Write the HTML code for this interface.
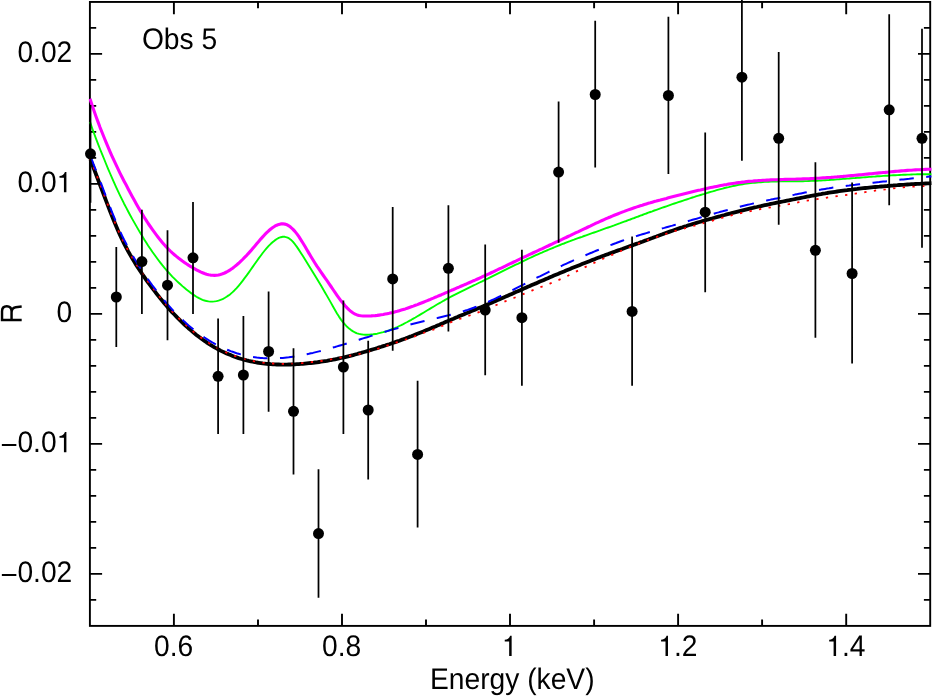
<!DOCTYPE html>
<html><head><meta charset="utf-8"><title>Obs 5</title>
<style>
html,body{margin:0;padding:0;background:#fff;}
body{width:934px;height:696px;overflow:hidden;position:relative;font-family:"Liberation Sans",sans-serif;}
svg text{text-rendering:geometricPrecision;}
</style></head><body>
<svg width="934" height="696" viewBox="0 0 934 696" style="position:absolute;left:0;top:0;display:block">
<rect x="0" y="0" width="934" height="696" fill="#fff"/>
<g stroke="#000" stroke-width="1.9" fill="none" stroke-linecap="butt">
<rect x="89.9" y="1.95" width="840.3000000000001" height="623.9499999999999"/>
<path d="M173.9,625.9 V613.6999999999999 M173.9,1.95 V14.149999999999999 M258.0,625.9 V619.6 M258.0,1.95 V8.25 M342.0,625.9 V613.6999999999999 M342.0,1.95 V14.149999999999999 M426.0,625.9 V619.6 M426.0,1.95 V8.25 M510.0,625.9 V613.6999999999999 M510.0,1.95 V14.149999999999999 M594.1,625.9 V619.6 M594.1,1.95 V8.25 M678.1,625.9 V613.6999999999999 M678.1,1.95 V14.149999999999999 M762.1,625.9 V619.6 M762.1,1.95 V8.25 M846.2,625.9 V613.6999999999999 M846.2,1.95 V14.149999999999999 M89.9,599.9 H96.2 M930.2,599.9 H923.9000000000001 M89.9,573.9 H102.10000000000001 M930.2,573.9 H918.0 M89.9,547.9 H96.2 M930.2,547.9 H923.9000000000001 M89.9,521.9 H96.2 M930.2,521.9 H923.9000000000001 M89.9,495.9 H96.2 M930.2,495.9 H923.9000000000001 M89.9,469.9 H96.2 M930.2,469.9 H923.9000000000001 M89.9,443.9 H102.10000000000001 M930.2,443.9 H918.0 M89.9,417.9 H96.2 M930.2,417.9 H923.9000000000001 M89.9,391.9 H96.2 M930.2,391.9 H923.9000000000001 M89.9,365.9 H96.2 M930.2,365.9 H923.9000000000001 M89.9,339.9 H96.2 M930.2,339.9 H923.9000000000001 M89.9,313.9 H102.10000000000001 M930.2,313.9 H918.0 M89.9,287.9 H96.2 M930.2,287.9 H923.9000000000001 M89.9,261.9 H96.2 M930.2,261.9 H923.9000000000001 M89.9,235.9 H96.2 M930.2,235.9 H923.9000000000001 M89.9,209.9 H96.2 M930.2,209.9 H923.9000000000001 M89.9,183.9 H102.10000000000001 M930.2,183.9 H918.0 M89.9,157.9 H96.2 M930.2,157.9 H923.9000000000001 M89.9,131.9 H96.2 M930.2,131.9 H923.9000000000001 M89.9,105.9 H96.2 M930.2,105.9 H923.9000000000001 M89.9,79.9 H96.2 M930.2,79.9 H923.9000000000001 M89.9,53.9 H102.10000000000001 M930.2,53.9 H918.0 M89.9,27.9 H96.2 M930.2,27.9 H923.9000000000001"/>
</g>
<clipPath id="c"><rect x="88.7" y="0" width="843.2" height="625.9"/></clipPath>
<g clip-path="url(#c)" fill="none" stroke-linejoin="round">
<path d="M90.0,158.8 L92.0,163.8 L94.0,169.0 L96.0,174.2 L98.0,179.5 L100.0,184.8 L102.1,190.2 L104.1,195.5 L106.1,200.8 L108.1,206.1 L110.1,211.2 L112.1,216.3 L114.1,221.3 L116.1,226.1 L118.1,230.7 L120.1,235.2 L122.1,239.5 L124.1,243.6 L126.2,247.5 L128.2,251.3 L130.2,254.9 L132.2,258.3 L134.2,261.6 L136.2,264.9 L138.2,268.0 L140.2,271.0 L142.2,274.0 L144.2,276.9 L146.2,279.8 L148.2,282.6 L150.3,285.4 L152.3,288.1 L154.3,290.7 L156.3,293.3 L158.3,295.9 L160.3,298.4 L162.3,300.8 L164.3,303.3 L166.3,305.6 L168.3,307.9 L170.3,310.2 L172.3,312.4 L174.4,314.5 L176.4,316.6 L178.4,318.7 L180.4,320.7 L182.4,322.6 L184.4,324.5 L186.4,326.4 L188.4,328.2 L190.4,329.9 L192.4,331.6 L194.4,333.3 L196.4,334.9 L198.5,336.5 L200.5,338.0 L202.5,339.5 L204.5,340.9 L206.5,342.3 L208.5,343.6 L210.5,344.9 L212.5,346.1 L214.5,347.3 L216.5,348.4 L218.5,349.5 L220.5,350.6 L222.6,351.6 L224.6,352.5 L226.6,353.4 L228.6,354.3 L230.6,355.1 L232.6,355.9 L234.6,356.7 L236.6,357.4 L238.6,358.1 L240.6,358.7 L242.6,359.3 L244.6,359.8 L246.7,360.4 L248.7,360.9 L250.7,361.3 L252.7,361.7 L254.7,362.1 L256.7,362.5 L258.7,362.8 L260.7,363.1 L262.7,363.4 L264.7,363.6 L266.7,363.8 L268.7,364.0 L270.8,364.2 L272.8,364.3 L274.8,364.4 L276.8,364.5 L278.8,364.5 L280.8,364.6 L282.8,364.6 L284.8,364.6 L286.8,364.6 L288.8,364.5 L290.8,364.5 L292.8,364.4 L294.9,364.3 L296.9,364.2 L298.9,364.1 L300.9,363.9 L302.9,363.8 L304.9,363.6 L306.9,363.4 L308.9,363.2 L310.9,363.0 L312.9,362.8 L314.9,362.5 L316.9,362.3 L319.0,362.0 L321.0,361.7 L323.0,361.4 L325.0,361.1 L327.0,360.8 L329.0,360.4 L331.0,360.0 L333.0,359.7 L335.0,359.3 L337.0,358.9 L339.0,358.4 L341.0,358.0 L343.1,357.6 L345.1,357.1 L347.1,356.6 L349.1,356.1 L351.1,355.6 L353.1,355.1 L355.1,354.5 L357.1,354.0 L359.1,353.4 L361.1,352.9 L363.1,352.3 L365.1,351.7 L367.2,351.1 L369.2,350.5 L371.2,349.9 L373.2,349.3 L375.2,348.7 L377.2,348.1 L379.2,347.4 L381.2,346.8 L383.2,346.1 L385.2,345.5 L387.2,344.8 L389.2,344.2 L391.3,343.5 L393.3,342.8 L395.3,342.1 L397.3,341.4 L399.3,340.7 L401.3,339.9 L403.3,339.2 L405.3,338.5 L407.3,337.7 L409.3,336.9 L411.3,336.2 L413.3,335.4 L415.4,334.6 L417.4,333.8 L419.4,333.0 L421.4,332.2 L423.4,331.4 L425.4,330.6 L427.4,329.7 L429.4,328.9 L431.4,328.1 L433.4,327.2 L435.4,326.4 L437.4,325.5 L439.5,324.7 L441.5,323.8 L443.5,323.0 L445.5,322.1 L447.5,321.2 L449.5,320.4 L451.5,319.5 L453.5,318.7 L455.5,317.8 L457.5,317.0 L459.5,316.1 L461.5,315.3 L463.6,314.5 L465.6,313.6 L467.6,312.8 L469.6,311.9 L471.6,311.1 L473.6,310.3 L475.6,309.4 L477.6,308.6 L479.6,307.7 L481.6,306.9 L483.6,306.1 L485.6,305.2 L487.7,304.4 L489.7,303.5 L491.7,302.7 L493.7,301.8 L495.7,300.9 L497.7,300.1 L499.7,299.2 L501.7,298.3 L503.7,297.4 L505.7,296.6 L507.7,295.7 L509.7,294.8 L511.8,293.9 L513.8,293.0 L515.8,292.1 L517.8,291.3 L519.8,290.4 L521.8,289.5 L523.8,288.6 L525.8,287.7 L527.8,286.8 L529.8,286.0 L531.8,285.1 L533.8,284.2 L535.9,283.4 L537.9,282.5 L539.9,281.6 L541.9,280.8 L543.9,279.9 L545.9,279.0 L547.9,278.2 L549.9,277.3 L551.9,276.5 L553.9,275.6 L555.9,274.8 L557.9,274.0 L560.0,273.1 L562.0,272.3 L564.0,271.5 L566.0,270.6 L568.0,269.8 L570.0,269.0 L572.0,268.1 L574.0,267.3 L576.0,266.5 L578.0,265.7 L580.0,264.9 L582.0,264.1 L584.1,263.3 L586.1,262.5 L588.1,261.7 L590.1,260.9 L592.1,260.1 L594.1,259.4 L596.1,258.6 L598.1,257.8 L600.1,257.1 L602.1,256.3 L604.1,255.6 L606.1,254.8 L608.2,254.1 L610.2,253.3 L612.2,252.6 L614.2,251.9 L616.2,251.1 L618.2,250.4 L620.2,249.7 L622.2,249.0 L624.2,248.2 L626.2,247.5 L628.2,246.8 L630.2,246.1 L632.3,245.4 L634.3,244.6 L636.3,243.9 L638.3,243.2 L640.3,242.4 L642.3,241.7 L644.3,240.9 L646.3,240.2 L648.3,239.5 L650.3,238.7 L652.3,238.0 L654.3,237.2 L656.4,236.5 L658.4,235.7 L660.4,235.0 L662.4,234.3 L664.4,233.5 L666.4,232.8 L668.4,232.1 L670.4,231.4 L672.4,230.7 L674.4,230.0 L676.4,229.3 L678.4,228.6 L680.5,227.9 L682.5,227.3 L684.5,226.6 L686.5,226.0 L688.5,225.3 L690.5,224.7 L692.5,224.1 L694.5,223.5 L696.5,222.9 L698.5,222.3 L700.5,221.7 L702.5,221.1 L704.6,220.5 L706.6,219.9 L708.6,219.4 L710.6,218.8 L712.6,218.3 L714.6,217.7 L716.6,217.1 L718.6,216.6 L720.6,216.1 L722.6,215.5 L724.6,215.0 L726.6,214.4 L728.7,213.9 L730.7,213.4 L732.7,212.8 L734.7,212.3 L736.7,211.8 L738.7,211.3 L740.7,210.8 L742.7,210.3 L744.7,209.8 L746.7,209.3 L748.7,208.8 L750.7,208.3 L752.8,207.9 L754.8,207.4 L756.8,207.0 L758.8,206.5 L760.8,206.1 L762.8,205.6 L764.8,205.2 L766.8,204.8 L768.8,204.4 L770.8,203.9 L772.8,203.5 L774.8,203.1 L776.9,202.7 L778.9,202.3 L780.9,201.9 L782.9,201.5 L784.9,201.1 L786.9,200.7 L788.9,200.3 L790.9,199.9 L792.9,199.5 L794.9,199.1 L796.9,198.7 L798.9,198.3 L801.0,197.9 L803.0,197.5 L805.0,197.1 L807.0,196.7 L809.0,196.3 L811.0,195.9 L813.0,195.5 L815.0,195.2 L817.0,194.8 L819.0,194.4 L821.0,194.1 L823.0,193.7 L825.1,193.4 L827.1,193.0 L829.1,192.7 L831.1,192.4 L833.1,192.1 L835.1,191.8 L837.1,191.5 L839.1,191.2 L841.1,190.9 L843.1,190.6 L845.1,190.3 L847.1,190.1 L849.2,189.8 L851.2,189.6 L853.2,189.3 L855.2,189.1 L857.2,188.9 L859.2,188.6 L861.2,188.4 L863.2,188.2 L865.2,188.0 L867.2,187.8 L869.2,187.6 L871.2,187.4 L873.3,187.2 L875.3,187.0 L877.3,186.8 L879.3,186.7 L881.3,186.5 L883.3,186.3 L885.3,186.1 L887.3,186.0 L889.3,185.8 L891.3,185.6 L893.3,185.5 L895.3,185.3 L897.4,185.2 L899.4,185.0 L901.4,184.9 L903.4,184.8 L905.4,184.6 L907.4,184.5 L909.4,184.4 L911.4,184.2 L913.4,184.1 L915.4,184.0 L917.4,183.9 L919.4,183.8 L921.5,183.7 L923.5,183.6 L925.5,183.5 L927.5,183.4 L929.5,183.3 L931.5,183.2" stroke="#000" stroke-width="3.8"/>
<path d="M90.0,158.2 L92.0,163.2 L94.0,168.4 L96.0,173.6 L98.0,178.9 L100.0,184.2 L102.1,189.5 L104.1,194.9 L106.1,200.2 L108.1,205.4 L110.1,210.6 L112.1,215.6 L114.1,220.6 L116.1,225.4 L118.1,230.1 L120.1,234.6 L122.1,238.8 L124.1,242.9 L126.2,246.8 L128.2,250.6 L130.2,254.2 L132.2,257.6 L134.2,260.9 L136.2,264.2 L138.2,267.3 L140.2,270.3 L142.2,273.3 L144.2,276.2 L146.2,279.1 L148.2,281.9 L150.3,284.6 L152.3,287.3 L154.3,290.0 L156.3,292.6 L158.3,295.2 L160.3,297.7 L162.3,300.1 L164.3,302.5 L166.3,304.9 L168.3,307.2 L170.3,309.4 L172.3,311.6 L174.4,313.8 L176.4,315.8 L178.4,317.9 L180.4,319.9 L182.4,321.8 L184.4,323.8 L186.4,325.6 L188.4,327.4 L190.4,329.2 L192.4,330.9 L194.4,332.5 L196.4,334.1 L198.5,335.7 L200.5,337.2 L202.5,338.7 L204.5,340.1 L206.5,341.5 L208.5,342.8 L210.5,344.1 L212.5,345.3 L214.5,346.5 L216.5,347.6 L218.5,348.7 L220.5,349.8 L222.6,350.8 L224.6,351.7 L226.6,352.7 L228.6,353.5 L230.6,354.4 L232.6,355.1 L234.6,355.9 L236.6,356.6 L238.6,357.3 L240.6,357.9 L242.6,358.5 L244.6,359.1 L246.7,359.6 L248.7,360.1 L250.7,360.5 L252.7,360.9 L254.7,361.3 L256.7,361.7 L258.7,362.0 L260.7,362.3 L262.7,362.6 L264.7,362.8 L266.7,363.0 L268.7,363.2 L270.8,363.4 L272.8,363.5 L274.8,363.6 L276.8,363.7 L278.8,363.7 L280.8,363.8 L282.8,363.8 L284.8,363.8 L286.8,363.8 L288.8,363.7 L290.8,363.7 L292.8,363.6 L294.9,363.5 L296.9,363.4 L298.9,363.3 L300.9,363.1 L302.9,363.0 L304.9,362.8 L306.9,362.6 L308.9,362.5 L310.9,362.2 L312.9,362.0 L314.9,361.8 L316.9,361.5 L319.0,361.3 L321.0,361.0 L323.0,360.7 L325.0,360.4 L327.0,360.1 L329.0,359.8 L331.0,359.4 L333.0,359.1 L335.0,358.7 L337.0,358.3 L339.0,357.9 L341.0,357.5 L343.1,357.1 L345.1,356.7 L347.1,356.3 L349.1,355.9 L351.1,355.5 L353.1,355.1 L355.1,354.7 L357.1,354.4 L359.1,354.0 L361.1,353.5 L363.1,353.0 L365.1,352.5 L367.2,351.9 L369.2,351.3 L371.2,350.7 L373.2,350.1 L375.2,349.5 L377.2,348.9 L379.2,348.3 L381.2,347.7 L383.2,347.0 L385.2,346.3 L387.2,345.6 L389.2,345.0 L391.3,344.3 L393.3,343.6 L395.3,342.9 L397.3,342.2 L399.3,341.5 L401.3,340.8 L403.3,340.2 L405.3,339.6 L407.3,338.9 L409.3,338.2 L411.3,337.5 L413.3,336.8 L415.4,336.1 L417.4,335.3 L419.4,334.5 L421.4,333.7 L423.4,333.0 L425.4,332.2 L427.4,331.5 L429.4,330.9 L431.4,330.3 L433.4,329.6 L435.4,328.8 L437.4,327.9 L439.5,327.1 L441.5,326.2 L443.5,325.4 L445.5,324.5 L447.5,323.7 L449.5,322.9 L451.5,322.0 L453.5,321.2 L455.5,320.5 L457.5,319.8 L459.5,319.0 L461.5,318.3 L463.6,317.6 L465.6,316.9 L467.6,316.2 L469.6,315.5 L471.6,314.8 L473.6,314.1 L475.6,313.3 L477.6,312.6 L479.6,311.8 L481.6,311.0 L483.6,310.2 L485.6,309.4 L487.7,308.6 L489.7,307.7 L491.7,306.9 L493.7,306.1 L495.7,305.3 L497.7,304.4 L499.7,303.6 L501.7,302.8 L503.7,301.9 L505.7,301.1 L507.7,300.3 L509.7,299.5 L511.8,298.8 L513.8,298.0 L515.8,297.2 L517.8,296.3 L519.8,295.5 L521.8,294.7 L523.8,293.9 L525.8,293.1 L527.8,292.3 L529.8,291.4 L531.8,290.6 L533.8,289.8 L535.9,289.0 L537.9,288.2 L539.9,287.4 L541.9,286.7 L543.9,285.9 L545.9,285.2 L547.9,284.4 L549.9,283.6 L551.9,282.8 L553.9,281.9 L555.9,281.1 L557.9,280.3 L560.0,279.4 L562.0,278.5 L564.0,277.6 L566.0,276.7 L568.0,275.7 L570.0,274.7 L572.0,273.7 L574.0,272.6 L576.0,271.6 L578.0,270.6 L580.0,269.5 L582.0,268.5 L584.1,267.6 L586.1,266.6 L588.1,265.7 L590.1,264.7 L592.1,263.8 L594.1,262.9 L596.1,261.9 L598.1,261.0 L600.1,260.1 L602.1,259.2 L604.1,258.3 L606.1,257.4 L608.2,256.6 L610.2,255.7 L612.2,254.8 L614.2,254.0 L616.2,253.1 L618.2,252.2 L620.2,251.3 L622.2,250.4 L624.2,249.5 L626.2,248.7 L628.2,247.8 L630.2,247.0 L632.3,246.1 L634.3,245.3 L636.3,244.5 L638.3,243.7 L640.3,242.9 L642.3,242.1 L644.3,241.4 L646.3,240.6 L648.3,239.9 L650.3,239.2 L652.3,238.5 L654.3,237.8 L656.4,237.1 L658.4,236.4 L660.4,235.7 L662.4,235.0 L664.4,234.3 L666.4,233.7 L668.4,233.0 L670.4,232.4 L672.4,231.8 L674.4,231.2 L676.4,230.6 L678.4,230.0 L680.5,229.5 L682.5,228.9 L684.5,228.4 L686.5,227.8 L688.5,227.3 L690.5,226.7 L692.5,226.2 L694.5,225.6 L696.5,225.0 L698.5,224.5 L700.5,223.9 L702.5,223.4 L704.6,222.8 L706.6,222.3 L708.6,221.7 L710.6,221.2 L712.6,220.6 L714.6,220.1 L716.6,219.5 L718.6,219.0 L720.6,218.3 L722.6,217.7 L724.6,217.2 L726.6,216.6 L728.7,216.1 L730.7,215.6 L732.7,215.0 L734.7,214.5 L736.7,214.0 L738.7,213.6 L740.7,213.1 L742.7,212.7 L744.7,212.3 L746.7,211.9 L748.7,211.5 L750.7,211.1 L752.8,210.7 L754.8,210.3 L756.8,209.9 L758.8,209.4 L760.8,209.0 L762.8,208.7 L764.8,208.3 L766.8,208.0 L768.8,207.6 L770.8,207.3 L772.8,206.9 L774.8,206.5 L776.9,206.1 L778.9,205.8 L780.9,205.4 L782.9,205.1 L784.9,204.8 L786.9,204.5 L788.9,204.2 L790.9,203.8 L792.9,203.4 L794.9,203.0 L796.9,202.6 L798.9,202.2 L801.0,201.8 L803.0,201.4 L805.0,201.0 L807.0,200.7 L809.0,200.3 L811.0,200.0 L813.0,199.7 L815.0,199.5 L817.0,199.2 L819.0,198.9 L821.0,198.6 L823.0,198.3 L825.1,198.0 L827.1,197.6 L829.1,197.3 L831.1,197.0 L833.1,196.7 L835.1,196.4 L837.1,196.1 L839.1,195.9 L841.1,195.6 L843.1,195.4 L845.1,195.1 L847.1,194.8 L849.2,194.5 L851.2,194.3 L853.2,194.0 L855.2,193.7 L857.2,193.4 L859.2,193.1 L861.2,192.8 L863.2,192.5 L865.2,192.1 L867.2,191.8 L869.2,191.5 L871.2,191.2 L873.3,190.9 L875.3,190.6 L877.3,190.3 L879.3,190.1 L881.3,189.8 L883.3,189.6 L885.3,189.4 L887.3,189.1 L889.3,188.9 L891.3,188.7 L893.3,188.4 L895.3,188.2 L897.4,187.9 L899.4,187.6 L901.4,187.4 L903.4,187.3 L905.4,187.1 L907.4,187.0 L909.4,186.9 L911.4,186.7 L913.4,186.6 L915.4,186.5 L917.4,186.4 L919.4,186.3 L921.5,186.2 L923.5,186.1 L925.5,186.0 L927.5,185.9 L929.5,185.8 L931.5,185.7" stroke="#f00" stroke-width="1.8" stroke-dasharray="2.3 7.4"/>
<path d="M90.0,121.9 L92.0,127.7 L94.0,133.3 L96.0,138.6 L98.0,143.9 L100.0,149.0 L102.1,154.1 L104.1,159.0 L106.1,164.0 L108.1,168.8 L110.1,173.5 L112.1,178.2 L114.1,182.7 L116.1,187.1 L118.1,191.4 L120.1,195.6 L122.1,199.7 L124.1,203.7 L126.2,207.6 L128.2,211.5 L130.2,215.2 L132.2,218.9 L134.2,222.4 L136.2,225.9 L138.2,229.4 L140.2,232.8 L142.2,236.1 L144.2,239.4 L146.2,242.6 L148.2,245.7 L150.3,248.7 L152.3,251.7 L154.3,254.5 L156.3,257.3 L158.3,260.0 L160.3,262.6 L162.3,265.2 L164.3,267.6 L166.3,270.0 L168.3,272.2 L170.3,274.4 L172.3,276.6 L174.4,278.6 L176.4,280.6 L178.4,282.5 L180.4,284.3 L182.4,286.1 L184.4,287.8 L186.4,289.5 L188.4,291.0 L190.4,292.6 L192.4,294.0 L194.4,295.4 L196.4,296.7 L198.5,297.9 L200.5,298.9 L202.5,299.8 L204.5,300.5 L206.5,301.0 L208.5,301.4 L210.5,301.6 L212.5,301.6 L214.5,301.4 L216.5,301.1 L218.5,300.6 L220.5,299.9 L222.6,299.1 L224.6,298.0 L226.6,296.8 L228.6,295.4 L230.6,293.9 L232.6,292.1 L234.6,290.2 L236.6,288.1 L238.6,285.8 L240.6,283.4 L242.6,280.8 L244.6,278.1 L246.7,275.4 L248.7,272.6 L250.7,269.8 L252.7,266.9 L254.7,264.0 L256.7,261.2 L258.7,258.4 L260.7,255.7 L262.7,253.0 L264.7,250.5 L266.7,248.1 L268.7,245.9 L270.8,243.8 L272.8,242.0 L274.8,240.4 L276.8,239.0 L278.8,237.9 L280.8,237.2 L282.8,236.8 L284.8,236.8 L286.8,237.3 L288.8,238.2 L290.8,239.7 L292.8,241.7 L294.9,244.2 L296.9,246.9 L298.9,249.9 L300.9,253.0 L302.9,256.1 L304.9,259.3 L306.9,262.5 L308.9,265.7 L310.9,268.9 L312.9,272.2 L314.9,275.5 L316.9,278.8 L319.0,282.2 L321.0,285.6 L323.0,289.0 L325.0,292.4 L327.0,295.9 L329.0,299.4 L331.0,302.9 L333.0,306.5 L335.0,310.0 L337.0,313.4 L339.0,316.6 L341.0,319.6 L343.1,322.3 L345.1,324.7 L347.1,326.8 L349.1,328.6 L351.1,330.1 L353.1,331.4 L355.1,332.5 L357.1,333.3 L359.1,333.9 L361.1,334.3 L363.1,334.6 L365.1,334.8 L367.2,334.8 L369.2,334.7 L371.2,334.5 L373.2,334.3 L375.2,334.0 L377.2,333.7 L379.2,333.2 L381.2,332.7 L383.2,332.2 L385.2,331.6 L387.2,331.0 L389.2,330.3 L391.3,329.5 L393.3,328.7 L395.3,327.9 L397.3,327.0 L399.3,326.0 L401.3,325.1 L403.3,324.1 L405.3,323.0 L407.3,322.0 L409.3,320.9 L411.3,319.8 L413.3,318.6 L415.4,317.5 L417.4,316.3 L419.4,315.1 L421.4,313.9 L423.4,312.7 L425.4,311.5 L427.4,310.3 L429.4,309.1 L431.4,307.9 L433.4,306.7 L435.4,305.5 L437.4,304.3 L439.5,303.1 L441.5,302.0 L443.5,300.8 L445.5,299.7 L447.5,298.6 L449.5,297.5 L451.5,296.4 L453.5,295.3 L455.5,294.3 L457.5,293.3 L459.5,292.3 L461.5,291.3 L463.6,290.3 L465.6,289.3 L467.6,288.3 L469.6,287.3 L471.6,286.4 L473.6,285.4 L475.6,284.5 L477.6,283.5 L479.6,282.5 L481.6,281.6 L483.6,280.6 L485.6,279.6 L487.7,278.7 L489.7,277.7 L491.7,276.7 L493.7,275.7 L495.7,274.7 L497.7,273.7 L499.7,272.7 L501.7,271.7 L503.7,270.7 L505.7,269.7 L507.7,268.7 L509.7,267.7 L511.8,266.7 L513.8,265.7 L515.8,264.7 L517.8,263.8 L519.8,262.8 L521.8,261.8 L523.8,260.8 L525.8,259.9 L527.8,258.9 L529.8,258.0 L531.8,257.1 L533.8,256.2 L535.9,255.2 L537.9,254.3 L539.9,253.4 L541.9,252.6 L543.9,251.7 L545.9,250.8 L547.9,250.0 L549.9,249.1 L551.9,248.3 L553.9,247.5 L555.9,246.6 L557.9,245.8 L560.0,245.0 L562.0,244.2 L564.0,243.5 L566.0,242.7 L568.0,241.9 L570.0,241.2 L572.0,240.4 L574.0,239.7 L576.0,238.9 L578.0,238.2 L580.0,237.5 L582.0,236.8 L584.1,236.0 L586.1,235.3 L588.1,234.6 L590.1,233.9 L592.1,233.2 L594.1,232.5 L596.1,231.8 L598.1,231.1 L600.1,230.4 L602.1,229.6 L604.1,228.9 L606.1,228.2 L608.2,227.5 L610.2,226.8 L612.2,226.1 L614.2,225.4 L616.2,224.6 L618.2,223.9 L620.2,223.2 L622.2,222.4 L624.2,221.7 L626.2,221.0 L628.2,220.2 L630.2,219.5 L632.3,218.7 L634.3,218.0 L636.3,217.2 L638.3,216.5 L640.3,215.7 L642.3,215.0 L644.3,214.2 L646.3,213.5 L648.3,212.7 L650.3,212.0 L652.3,211.3 L654.3,210.5 L656.4,209.8 L658.4,209.1 L660.4,208.4 L662.4,207.7 L664.4,207.0 L666.4,206.3 L668.4,205.6 L670.4,204.9 L672.4,204.2 L674.4,203.5 L676.4,202.8 L678.4,202.1 L680.5,201.5 L682.5,200.8 L684.5,200.1 L686.5,199.5 L688.5,198.8 L690.5,198.2 L692.5,197.5 L694.5,196.9 L696.5,196.2 L698.5,195.6 L700.5,195.0 L702.5,194.4 L704.6,193.8 L706.6,193.1 L708.6,192.5 L710.6,191.9 L712.6,191.4 L714.6,190.8 L716.6,190.2 L718.6,189.6 L720.6,189.1 L722.6,188.6 L724.6,188.0 L726.6,187.5 L728.7,187.1 L730.7,186.6 L732.7,186.1 L734.7,185.7 L736.7,185.3 L738.7,184.9 L740.7,184.6 L742.7,184.2 L744.7,183.9 L746.7,183.6 L748.7,183.3 L750.7,183.1 L752.8,182.9 L754.8,182.7 L756.8,182.5 L758.8,182.3 L760.8,182.2 L762.8,182.0 L764.8,181.9 L766.8,181.8 L768.8,181.7 L770.8,181.6 L772.8,181.6 L774.8,181.5 L776.9,181.5 L778.9,181.4 L780.9,181.4 L782.9,181.4 L784.9,181.3 L786.9,181.3 L788.9,181.3 L790.9,181.3 L792.9,181.3 L794.9,181.3 L796.9,181.2 L798.9,181.2 L801.0,181.2 L803.0,181.2 L805.0,181.1 L807.0,181.1 L809.0,181.0 L811.0,180.9 L813.0,180.9 L815.0,180.8 L817.0,180.7 L819.0,180.6 L821.0,180.5 L823.0,180.4 L825.1,180.2 L827.1,180.1 L829.1,180.0 L831.1,179.8 L833.1,179.7 L835.1,179.6 L837.1,179.4 L839.1,179.3 L841.1,179.1 L843.1,178.9 L845.1,178.8 L847.1,178.6 L849.2,178.5 L851.2,178.3 L853.2,178.1 L855.2,178.0 L857.2,177.8 L859.2,177.7 L861.2,177.5 L863.2,177.4 L865.2,177.2 L867.2,177.1 L869.2,176.9 L871.2,176.8 L873.3,176.6 L875.3,176.5 L877.3,176.3 L879.3,176.2 L881.3,176.1 L883.3,175.9 L885.3,175.8 L887.3,175.7 L889.3,175.5 L891.3,175.4 L893.3,175.3 L895.3,175.2 L897.4,175.1 L899.4,175.0 L901.4,174.9 L903.4,174.8 L905.4,174.7 L907.4,174.6 L909.4,174.6 L911.4,174.5 L913.4,174.4 L915.4,174.4 L917.4,174.3 L919.4,174.3 L921.5,174.3 L923.5,174.2 L925.5,174.2 L927.5,174.2 L929.5,174.2 L931.5,174.2" stroke="#0f0" stroke-width="1.9"/>
<path d="M90.0,155.3 L92.0,160.2 L94.0,165.3 L96.0,170.4 L98.0,175.7 L100.0,180.9 L102.1,186.2 L104.1,191.5 L106.1,196.8 L108.1,202.0 L110.1,207.2 L112.1,212.3 L114.1,217.2 L116.1,222.1 L118.1,226.8 L120.1,231.3 L122.1,235.7 L124.1,239.8 L126.2,243.8 L128.2,247.6 L130.2,251.3 L132.2,254.9 L134.2,258.3 L136.2,261.6 L138.2,264.8 L140.2,267.9 L142.2,270.9 L144.2,273.9 L146.2,276.8 L148.2,279.7 L150.3,282.5 L152.3,285.3 L154.3,287.9 L156.3,290.6 L158.3,293.1 L160.3,295.7 L162.3,298.1 L164.3,300.5 L166.3,302.9 L168.3,305.2 L170.3,307.4 L172.3,309.6 L174.4,311.7 L176.4,313.8 L178.4,315.8 L180.4,317.8 L182.4,319.7 L184.4,321.6 L186.4,323.4 L188.4,325.2 L190.4,326.9 L192.4,328.6 L194.4,330.2 L196.4,331.7 L198.5,333.3 L200.5,334.7 L202.5,336.1 L204.5,337.5 L206.5,338.8 L208.5,340.1 L210.5,341.3 L212.5,342.5 L214.5,343.7 L216.5,344.7 L218.5,345.8 L220.5,346.8 L222.6,347.7 L224.6,348.6 L226.6,349.5 L228.6,350.3 L230.6,351.1 L232.6,351.8 L234.6,352.5 L236.6,353.2 L238.6,353.8 L240.6,354.4 L242.6,354.9 L244.6,355.4 L246.7,355.8 L248.7,356.2 L250.7,356.6 L252.7,356.9 L254.7,357.2 L256.7,357.5 L258.7,357.7 L260.7,357.9 L262.7,358.1 L264.7,358.2 L266.7,358.3 L268.7,358.3 L270.8,358.3 L272.8,358.3 L274.8,358.3 L276.8,358.2 L278.8,358.1 L280.8,358.0 L282.8,357.9 L284.8,357.7 L286.8,357.5 L288.8,357.3 L290.8,357.0 L292.8,356.7 L294.9,356.4 L296.9,356.1 L298.9,355.8 L300.9,355.4 L302.9,355.0 L304.9,354.6 L306.9,354.2 L308.9,353.8 L310.9,353.3 L312.9,352.9 L314.9,352.4 L316.9,351.9 L319.0,351.4 L321.0,350.9 L323.0,350.3 L325.0,349.8 L327.0,349.2 L329.0,348.7 L331.0,348.1 L333.0,347.5 L335.0,347.0 L337.0,346.4 L339.0,345.8 L341.0,345.2 L343.1,344.6 L345.1,344.0 L347.1,343.3 L349.1,342.7 L351.1,342.1 L353.1,341.5 L355.1,340.9 L357.1,340.3 L359.1,339.7 L361.1,339.0 L363.1,338.4 L365.1,337.8 L367.2,337.2 L369.2,336.6 L371.2,335.9 L373.2,335.3 L375.2,334.7 L377.2,334.1 L379.2,333.5 L381.2,332.9 L383.2,332.3 L385.2,331.7 L387.2,331.1 L389.2,330.5 L391.3,329.9 L393.3,329.3 L395.3,328.8 L397.3,328.2 L399.3,327.6 L401.3,327.1 L403.3,326.5 L405.3,325.9 L407.3,325.4 L409.3,324.9 L411.3,324.3 L413.3,323.8 L415.4,323.3 L417.4,322.8 L419.4,322.3 L421.4,321.8 L423.4,321.3 L425.4,320.8 L427.4,320.3 L429.4,319.8 L431.4,319.4 L433.4,318.9 L435.4,318.4 L437.4,318.0 L439.5,317.5 L441.5,317.0 L443.5,316.5 L445.5,316.0 L447.5,315.6 L449.5,315.0 L451.5,314.5 L453.5,314.0 L455.5,313.5 L457.5,312.9 L459.5,312.3 L461.5,311.8 L463.6,311.1 L465.6,310.5 L467.6,309.9 L469.6,309.2 L471.6,308.5 L473.6,307.8 L475.6,307.0 L477.6,306.2 L479.6,305.4 L481.6,304.6 L483.6,303.8 L485.6,302.9 L487.7,302.0 L489.7,301.1 L491.7,300.2 L493.7,299.3 L495.7,298.4 L497.7,297.4 L499.7,296.5 L501.7,295.5 L503.7,294.5 L505.7,293.5 L507.7,292.5 L509.7,291.5 L511.8,290.5 L513.8,289.5 L515.8,288.4 L517.8,287.4 L519.8,286.4 L521.8,285.4 L523.8,284.4 L525.8,283.3 L527.8,282.3 L529.8,281.3 L531.8,280.3 L533.8,279.3 L535.9,278.3 L537.9,277.2 L539.9,276.3 L541.9,275.3 L543.9,274.3 L545.9,273.3 L547.9,272.3 L549.9,271.3 L551.9,270.4 L553.9,269.4 L555.9,268.5 L557.9,267.5 L560.0,266.6 L562.0,265.7 L564.0,264.7 L566.0,263.8 L568.0,262.9 L570.0,262.0 L572.0,261.1 L574.0,260.2 L576.0,259.3 L578.0,258.4 L580.0,257.6 L582.0,256.7 L584.1,255.9 L586.1,255.0 L588.1,254.1 L590.1,253.3 L592.1,252.5 L594.1,251.6 L596.1,250.8 L598.1,250.0 L600.1,249.2 L602.1,248.4 L604.1,247.6 L606.1,246.8 L608.2,246.0 L610.2,245.2 L612.2,244.5 L614.2,243.7 L616.2,243.0 L618.2,242.2 L620.2,241.5 L622.2,240.8 L624.2,240.1 L626.2,239.4 L628.2,238.7 L630.2,238.1 L632.3,237.4 L634.3,236.8 L636.3,236.1 L638.3,235.5 L640.3,234.9 L642.3,234.3 L644.3,233.7 L646.3,233.1 L648.3,232.5 L650.3,231.9 L652.3,231.3 L654.3,230.7 L656.4,230.2 L658.4,229.6 L660.4,229.0 L662.4,228.4 L664.4,227.9 L666.4,227.3 L668.4,226.7 L670.4,226.1 L672.4,225.6 L674.4,225.0 L676.4,224.4 L678.4,223.9 L680.5,223.3 L682.5,222.7 L684.5,222.1 L686.5,221.6 L688.5,221.0 L690.5,220.4 L692.5,219.8 L694.5,219.2 L696.5,218.7 L698.5,218.1 L700.5,217.5 L702.5,216.9 L704.6,216.3 L706.6,215.8 L708.6,215.2 L710.6,214.6 L712.6,214.1 L714.6,213.5 L716.6,212.9 L718.6,212.4 L720.6,211.8 L722.6,211.3 L724.6,210.7 L726.6,210.2 L728.7,209.7 L730.7,209.1 L732.7,208.6 L734.7,208.1 L736.7,207.6 L738.7,207.0 L740.7,206.5 L742.7,206.0 L744.7,205.5 L746.7,205.0 L748.7,204.6 L750.7,204.1 L752.8,203.6 L754.8,203.2 L756.8,202.7 L758.8,202.2 L760.8,201.8 L762.8,201.4 L764.8,200.9 L766.8,200.5 L768.8,200.1 L770.8,199.6 L772.8,199.2 L774.8,198.8 L776.9,198.4 L778.9,198.0 L780.9,197.5 L782.9,197.1 L784.9,196.7 L786.9,196.3 L788.9,195.9 L790.9,195.5 L792.9,195.1 L794.9,194.6 L796.9,194.2 L798.9,193.8 L801.0,193.4 L803.0,193.0 L805.0,192.6 L807.0,192.2 L809.0,191.8 L811.0,191.4 L813.0,191.0 L815.0,190.7 L817.0,190.3 L819.0,189.9 L821.0,189.6 L823.0,189.2 L825.1,188.9 L827.1,188.6 L829.1,188.3 L831.1,187.9 L833.1,187.6 L835.1,187.3 L837.1,187.1 L839.1,186.8 L841.1,186.5 L843.1,186.2 L845.1,186.0 L847.1,185.7 L849.2,185.5 L851.2,185.2 L853.2,185.0 L855.2,184.8 L857.2,184.5 L859.2,184.3 L861.2,184.1 L863.2,183.8 L865.2,183.6 L867.2,183.4 L869.2,183.2 L871.2,182.9 L873.3,182.7 L875.3,182.5 L877.3,182.3 L879.3,182.1 L881.3,181.8 L883.3,181.6 L885.3,181.4 L887.3,181.2 L889.3,180.9 L891.3,180.7 L893.3,180.5 L895.3,180.3 L897.4,180.1 L899.4,179.8 L901.4,179.6 L903.4,179.4 L905.4,179.2 L907.4,179.0 L909.4,178.8 L911.4,178.5 L913.4,178.3 L915.4,178.1 L917.4,177.9 L919.4,177.7 L921.5,177.5 L923.5,177.3 L925.5,177.0 L927.5,176.8 L929.5,176.6 L931.5,176.4" stroke="#00f" stroke-width="2" stroke-dasharray="14.5 12.5" stroke-dashoffset="-1.7"/>
<path d="M90.0,98.8 L92.0,104.9 L94.0,110.8 L96.0,116.4 L98.0,121.9 L100.0,127.3 L102.1,132.5 L104.1,137.5 L106.1,142.4 L108.1,147.1 L110.1,151.8 L112.1,156.3 L114.1,160.7 L116.1,164.9 L118.1,169.1 L120.1,173.3 L122.1,177.3 L124.1,181.2 L126.2,185.1 L128.2,189.0 L130.2,192.7 L132.2,196.4 L134.2,200.1 L136.2,203.7 L138.2,207.2 L140.2,210.6 L142.2,213.9 L144.2,217.2 L146.2,220.4 L148.2,223.5 L150.3,226.5 L152.3,229.4 L154.3,232.2 L156.3,234.9 L158.3,237.5 L160.3,240.0 L162.3,242.4 L164.3,244.7 L166.3,246.9 L168.3,249.0 L170.3,251.0 L172.3,252.9 L174.4,254.7 L176.4,256.4 L178.4,258.0 L180.4,259.5 L182.4,261.0 L184.4,262.4 L186.4,263.8 L188.4,265.1 L190.4,266.3 L192.4,267.5 L194.4,268.7 L196.4,269.8 L198.5,270.9 L200.5,271.9 L202.5,272.7 L204.5,273.5 L206.5,274.2 L208.5,274.7 L210.5,275.1 L212.5,275.3 L214.5,275.4 L216.5,275.3 L218.5,274.9 L220.5,274.4 L222.6,273.8 L224.6,273.0 L226.6,272.0 L228.6,270.8 L230.6,269.6 L232.6,268.2 L234.6,266.6 L236.6,265.0 L238.6,263.3 L240.6,261.4 L242.6,259.5 L244.6,257.4 L246.7,255.3 L248.7,253.1 L250.7,250.9 L252.7,248.5 L254.7,246.2 L256.7,243.8 L258.7,241.5 L260.7,239.1 L262.7,236.9 L264.7,234.7 L266.7,232.7 L268.7,230.8 L270.8,229.0 L272.8,227.5 L274.8,226.2 L276.8,225.2 L278.8,224.4 L280.8,223.9 L282.8,223.8 L284.8,224.1 L286.8,224.7 L288.8,225.8 L290.8,227.3 L292.8,229.1 L294.9,231.4 L296.9,233.9 L298.9,236.7 L300.9,239.8 L302.9,243.0 L304.9,246.3 L306.9,249.7 L308.9,253.1 L310.9,256.5 L312.9,259.8 L314.9,263.0 L316.9,266.1 L319.0,269.1 L321.0,272.1 L323.0,275.0 L325.0,277.9 L327.0,280.7 L329.0,283.6 L331.0,286.5 L333.0,289.5 L335.0,292.4 L337.0,295.3 L339.0,298.1 L341.0,300.8 L343.1,303.3 L345.1,305.7 L347.1,307.9 L349.1,309.9 L351.1,311.6 L353.1,313.0 L355.1,314.1 L357.1,314.9 L359.1,315.5 L361.1,315.8 L363.1,316.0 L365.1,316.0 L367.2,316.0 L369.2,316.0 L371.2,315.9 L373.2,315.7 L375.2,315.6 L377.2,315.4 L379.2,315.1 L381.2,314.8 L383.2,314.5 L385.2,314.1 L387.2,313.7 L389.2,313.3 L391.3,312.8 L393.3,312.4 L395.3,311.8 L397.3,311.3 L399.3,310.7 L401.3,310.1 L403.3,309.5 L405.3,308.9 L407.3,308.2 L409.3,307.5 L411.3,306.8 L413.3,306.1 L415.4,305.3 L417.4,304.6 L419.4,303.8 L421.4,303.0 L423.4,302.2 L425.4,301.4 L427.4,300.6 L429.4,299.8 L431.4,298.9 L433.4,298.1 L435.4,297.2 L437.4,296.4 L439.5,295.5 L441.5,294.7 L443.5,293.8 L445.5,292.9 L447.5,292.1 L449.5,291.2 L451.5,290.3 L453.5,289.5 L455.5,288.6 L457.5,287.7 L459.5,286.9 L461.5,286.0 L463.6,285.1 L465.6,284.3 L467.6,283.4 L469.6,282.5 L471.6,281.6 L473.6,280.7 L475.6,279.9 L477.6,279.0 L479.6,278.1 L481.6,277.2 L483.6,276.2 L485.6,275.3 L487.7,274.4 L489.7,273.5 L491.7,272.5 L493.7,271.6 L495.7,270.6 L497.7,269.7 L499.7,268.7 L501.7,267.8 L503.7,266.8 L505.7,265.9 L507.7,264.9 L509.7,263.9 L511.8,263.0 L513.8,262.0 L515.8,261.1 L517.8,260.1 L519.8,259.2 L521.8,258.2 L523.8,257.2 L525.8,256.3 L527.8,255.4 L529.8,254.4 L531.8,253.5 L533.8,252.5 L535.9,251.6 L537.9,250.7 L539.9,249.7 L541.9,248.8 L543.9,247.8 L545.9,246.9 L547.9,246.0 L549.9,245.0 L551.9,244.1 L553.9,243.1 L555.9,242.2 L557.9,241.3 L560.0,240.3 L562.0,239.4 L564.0,238.4 L566.0,237.5 L568.0,236.5 L570.0,235.6 L572.0,234.6 L574.0,233.7 L576.0,232.7 L578.0,231.8 L580.0,230.8 L582.0,229.9 L584.1,228.9 L586.1,228.0 L588.1,227.0 L590.1,226.1 L592.1,225.1 L594.1,224.2 L596.1,223.2 L598.1,222.3 L600.1,221.4 L602.1,220.5 L604.1,219.6 L606.1,218.7 L608.2,217.8 L610.2,217.0 L612.2,216.1 L614.2,215.3 L616.2,214.5 L618.2,213.7 L620.2,212.9 L622.2,212.1 L624.2,211.4 L626.2,210.6 L628.2,209.9 L630.2,209.2 L632.3,208.5 L634.3,207.8 L636.3,207.1 L638.3,206.4 L640.3,205.8 L642.3,205.2 L644.3,204.5 L646.3,203.9 L648.3,203.3 L650.3,202.8 L652.3,202.2 L654.3,201.6 L656.4,201.1 L658.4,200.5 L660.4,200.0 L662.4,199.4 L664.4,198.9 L666.4,198.4 L668.4,197.8 L670.4,197.3 L672.4,196.8 L674.4,196.3 L676.4,195.8 L678.4,195.3 L680.5,194.8 L682.5,194.3 L684.5,193.8 L686.5,193.3 L688.5,192.8 L690.5,192.3 L692.5,191.8 L694.5,191.3 L696.5,190.8 L698.5,190.3 L700.5,189.9 L702.5,189.4 L704.6,188.9 L706.6,188.5 L708.6,188.0 L710.6,187.6 L712.6,187.2 L714.6,186.8 L716.6,186.4 L718.6,186.0 L720.6,185.6 L722.6,185.2 L724.6,184.8 L726.6,184.5 L728.7,184.1 L730.7,183.8 L732.7,183.5 L734.7,183.2 L736.7,182.9 L738.7,182.6 L740.7,182.4 L742.7,182.1 L744.7,181.9 L746.7,181.6 L748.7,181.4 L750.7,181.2 L752.8,181.1 L754.8,180.9 L756.8,180.7 L758.8,180.6 L760.8,180.5 L762.8,180.3 L764.8,180.2 L766.8,180.1 L768.8,180.0 L770.8,179.9 L772.8,179.8 L774.8,179.8 L776.9,179.7 L778.9,179.6 L780.9,179.6 L782.9,179.5 L784.9,179.4 L786.9,179.4 L788.9,179.3 L790.9,179.3 L792.9,179.2 L794.9,179.2 L796.9,179.1 L798.9,179.0 L801.0,179.0 L803.0,178.9 L805.0,178.8 L807.0,178.8 L809.0,178.7 L811.0,178.6 L813.0,178.5 L815.0,178.4 L817.0,178.3 L819.0,178.2 L821.0,178.0 L823.0,177.9 L825.1,177.8 L827.1,177.6 L829.1,177.5 L831.1,177.4 L833.1,177.2 L835.1,177.0 L837.1,176.9 L839.1,176.7 L841.1,176.5 L843.1,176.4 L845.1,176.2 L847.1,176.0 L849.2,175.8 L851.2,175.6 L853.2,175.5 L855.2,175.3 L857.2,175.1 L859.2,174.9 L861.2,174.7 L863.2,174.5 L865.2,174.3 L867.2,174.1 L869.2,173.9 L871.2,173.7 L873.3,173.5 L875.3,173.3 L877.3,173.1 L879.3,172.9 L881.3,172.7 L883.3,172.5 L885.3,172.4 L887.3,172.2 L889.3,172.0 L891.3,171.8 L893.3,171.6 L895.3,171.4 L897.4,171.3 L899.4,171.1 L901.4,170.9 L903.4,170.8 L905.4,170.6 L907.4,170.4 L909.4,170.3 L911.4,170.2 L913.4,170.0 L915.4,169.9 L917.4,169.8 L919.4,169.7 L921.5,169.6 L923.5,169.5 L925.5,169.4 L927.5,169.3 L929.5,169.2 L931.5,169.2" stroke="#f0f" stroke-width="3.1"/>
</g>
<path d="M90.5,105.0 V202.7 M116.3,247.0 V347.0 M141.9,209.7 V313.9 M167.5,230.3 V340.2 M193.0,202.0 V313.9 M218.1,318.6 V433.9 M243.4,316.1 V433.9 M268.6,291.4 V411.7 M293.5,348.2 V474.5 M318.5,469.2 V597.7 M343.4,300.5 V433.9 M368.2,340.7 V479.5 M392.7,207.0 V350.7 M417.6,380.8 V527.6 M448.4,205.2 V331.4 M485.2,244.5 V375.3 M521.9,249.8 V385.8 M558.6,101.5 V242.8 M595.2,20.8 V167.4 M632.1,236.5 V385.8 M705.2,132.5 V292.3 M668.4,16.8 V173.9 M741.9,0.0 V160.8 M778.7,51.9 V224.7 M815.4,162.2 V337.7 M852.1,182.6 V363.5 M889.2,14.3 V205.2 M922.0,28.8 V247.8" stroke="#000" stroke-width="1.75" fill="none"/>
<g fill="#000"><circle cx="90.5" cy="153.8" r="5.5"/><circle cx="116.3" cy="297.0" r="5.5"/><circle cx="141.9" cy="261.6" r="5.5"/><circle cx="167.5" cy="285.2" r="5.5"/><circle cx="193.0" cy="257.8" r="5.5"/><circle cx="218.1" cy="376.3" r="5.5"/><circle cx="243.4" cy="375.0" r="5.5"/><circle cx="268.6" cy="351.5" r="5.5"/><circle cx="293.5" cy="411.3" r="5.5"/><circle cx="318.5" cy="533.6" r="5.5"/><circle cx="343.4" cy="367.0" r="5.5"/><circle cx="368.2" cy="410.0" r="5.5"/><circle cx="392.7" cy="278.9" r="5.5"/><circle cx="417.6" cy="454.4" r="5.5"/><circle cx="448.4" cy="268.3" r="5.5"/><circle cx="485.2" cy="310.1" r="5.5"/><circle cx="521.9" cy="317.7" r="5.5"/><circle cx="558.6" cy="172.1" r="5.5"/><circle cx="595.2" cy="94.5" r="5.5"/><circle cx="632.1" cy="311.4" r="5.5"/><circle cx="705.2" cy="212.2" r="5.5"/><circle cx="668.4" cy="95.5" r="5.5"/><circle cx="741.9" cy="77.2" r="5.5"/><circle cx="778.7" cy="138.3" r="5.5"/><circle cx="815.4" cy="250.3" r="5.5"/><circle cx="852.1" cy="273.5" r="5.5"/><circle cx="889.2" cy="109.8" r="5.5"/><circle cx="922.0" cy="138.3" r="5.5"/></g>
<g style="opacity:0.999" font-family="Liberation Sans, sans-serif" font-size="28.2" fill="#000">
<text transform="translate(154.00,656.0) scale(1,1.052)">0.6</text>
<text transform="translate(322.10,656.0) scale(1,1.052)">0.8</text>
<path transform="translate(501.86,656.0) scale(0.0282,-0.02865)" d="M259,0 V505 H102 V568 C190,578 262,606 295,709 H347 V0 Z"/>
<path transform="translate(658.20,656.0) scale(0.0282,-0.02865)" d="M259,0 V505 H102 V568 C190,578 262,606 295,709 H347 V0 Z"/><text transform="translate(673.88,656.0) scale(1,1.052)">.2</text>
<path transform="translate(826.30,656.0) scale(0.0282,-0.02865)" d="M259,0 V505 H102 V568 C190,578 262,606 295,709 H347 V0 Z"/><text transform="translate(841.98,656.0) scale(1,1.052)">.4</text>
<text transform="translate(17.42,62.3) scale(1,1.052)">0.02</text>
<text transform="translate(17.42,192.3) scale(1,1.052)">0.0</text><path transform="translate(56.62,192.3) scale(0.0282,-0.02865)" d="M259,0 V505 H102 V568 C190,578 262,606 295,709 H347 V0 Z"/>
<text transform="translate(56.62,322.3) scale(1,1.052)">0</text>
<rect x="1.85" y="444.00" width="14.5" height="2.0"/><text transform="translate(17.42,452.3) scale(1,1.052)">0.0</text><path transform="translate(56.62,452.3) scale(0.0282,-0.02865)" d="M259,0 V505 H102 V568 C190,578 262,606 295,709 H347 V0 Z"/>
<rect x="1.85" y="574.00" width="14.5" height="2.0"/><text transform="translate(17.42,582.3) scale(1,1.052)">0.02</text>
<text transform="translate(512.3,689.0) scale(1,1.052)" text-anchor="middle">Energy (keV)</text>
<text transform="translate(141.9,49.3) scale(1,1.052)" text-anchor="start">Obs 5</text>
<path d="M0.80,320.00 L21.68,320.00 M2.03,320.00 L2.03,311.33 C2.03,307.42 3.85,306.19 6.80,306.19 C9.74,306.19 11.56,307.74 11.56,311.33 L11.56,320.00 M11.56,312.67 C11.56,309.03 12.74,307.63 15.63,307.21 L21.68,306.46" fill="none" stroke="#000" stroke-width="2.45" stroke-linejoin="round"/>
</g>
</svg>
</body></html>
